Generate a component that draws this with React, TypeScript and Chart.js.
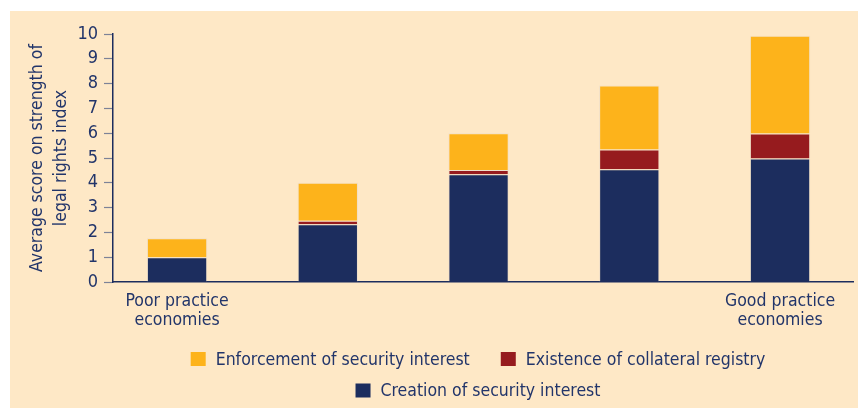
import React, { useEffect, useRef } from "react";
import { Chart, registerables } from "chart.js";

Chart.register(...registerables);

// ---- data ----
const positions = [1, 2, 3, 4, 5];
const tickLabels: string[][] = [
  ["Poor practice", "economies"],
  [""],
  [""],
  [""],
  ["Good practice", "economies"],
];
const creation = [1.0, 2.33, 4.34, 4.55, 4.98];
const registry = [0, 0.14, 0.18, 0.79, 1.01];
const enforcement = [0.76, 1.53, 1.48, 2.58, 3.94];
const seriesNames = [
  "Creation of security interest",
  "Existence of collateral registry",
  "Enforcement of security interest",
];
const yTitle = ["Average score on strength of", "legal rights index"];
const legendRows = [[2, 1], [0]];

// ---- styles ----
const FONT = "'DejaVu Sans Condensed', 'Liberation Sans Narrow', 'DejaVu Sans', sans-serif";
const NAVY = "#1c2d5e";
const TEXT = "#22356a";
const RED = "#961b1e";
const ORANGE = "#fdb31b";
const BG = "#fee8c6";
const FS = 17.5;

const legendPlugin = {
  id: "customLegend",
  afterDraw(chart: any) {
    const { ctx, chartArea } = chart;
    ctx.save();
    ctx.font = `${FS}px ${FONT}`;
    ctx.textBaseline = "middle";
    ctx.textAlign = "left";
    const boxW = 15;
    const boxH = 14;
    const gapText = 10;
    const gapItem = 31;
    const cx = (chartArea.left + chartArea.right) / 2 - 5;
    const rowY = [chartArea.bottom + 77, chartArea.bottom + 108.5];
    legendRows.forEach((row, r) => {
      const widths = row.map(
        (i) => boxW + gapText + ctx.measureText(chart.data.datasets[i].label).width
      );
      const total = widths.reduce((a, b) => a + b, 0) + gapItem * (row.length - 1);
      let x = cx - total / 2;
      row.forEach((i, k) => {
        const ds = chart.data.datasets[i];
        ctx.fillStyle = ds.backgroundColor;
        ctx.fillRect(x, rowY[r] - boxH / 2, boxW, boxH);
        ctx.fillStyle = TEXT;
        ctx.fillText(ds.label, x + boxW + gapText, rowY[r] + 1);
        x += widths[k] + gapItem;
      });
    });
    ctx.restore();
  },
};

export default function App() {
  const ref = useRef<HTMLCanvasElement>(null);
  useEffect(() => {
    if (!ref.current) return;
    const mk = (vals: number[]) => positions.map((p, i) => ({ x: p, y: vals[i] }));
    const common = {
      barPercentage: 0.4,
      categoryPercentage: 1,
      borderWidth: 1,
      borderColor: "rgba(225,215,205,0.45)",
    };
    const chart = new Chart(ref.current, {
      type: "bar",
      data: {
        datasets: [
          { label: seriesNames[0], data: mk(creation), backgroundColor: NAVY, ...common },
          { label: seriesNames[1], data: mk(registry), backgroundColor: RED, ...common },
          { label: seriesNames[2], data: mk(enforcement), backgroundColor: ORANGE, ...common },
        ],
      },
      options: {
        animation: false,
        responsive: false,
        devicePixelRatio: 1,
        layout: { padding: { left: 0, right: 5, top: 23, bottom: 69 } },
        plugins: { legend: { display: false }, tooltip: { enabled: false } },
        scales: {
          x: {
            type: "linear",
            offset: false,
            stacked: true,
            min: 0.575,
            max: 5.484,
            grid: { display: false, drawTicks: false },
            border: { display: true, color: NAVY, width: 1.5 },
            afterBuildTicks: (scale: any) => {
              scale.ticks = positions.map((v) => ({ value: v }));
            },
            ticks: {
              autoSkip: false,
              maxRotation: 0,
              padding: 9.5,
              color: TEXT,
              font: { family: FONT, size: FS, lineHeight: 19 / FS },
              callback: (value: any) => {
                const idx = positions.indexOf(Number(value));
                return idx >= 0 ? tickLabels[idx] : "";
              },
            },
          },
          y: {
            stacked: true,
            min: 0,
            max: 10,
            afterFit: (scale: any) => {
              scale.width = 103;
            },
            grid: {
              drawOnChartArea: false,
              drawTicks: true,
              tickLength: 9,
              tickColor: "#7d8297",
              tickWidth: 1.2,
            },
            border: { display: true, color: NAVY, width: 1.5 },
            ticks: {
              stepSize: 1,
              autoSkip: false,
              padding: 6,
              color: TEXT,
              font: { family: FONT, size: 18 },
            },
            title: {
              display: true,
              text: yTitle,
              color: TEXT,
              padding: { top: 15, bottom: 0 },
              font: { family: FONT, size: FS, lineHeight: 24 / FS },
            },
          },
        },
      },
      plugins: [legendPlugin],
    } as any);
    return () => chart.destroy();
  }, []);
  return (
    <div style={{ position: "fixed", left: 0, top: 0, width: 858, height: 408, background: "#fff" }}>
      <div style={{ position: "absolute", left: 10, top: 11, width: 848, height: 397, background: BG }}>
        <canvas ref={ref} width={848} height={397} style={{ display: "block" }} />
      </div>
    </div>
  );
}
